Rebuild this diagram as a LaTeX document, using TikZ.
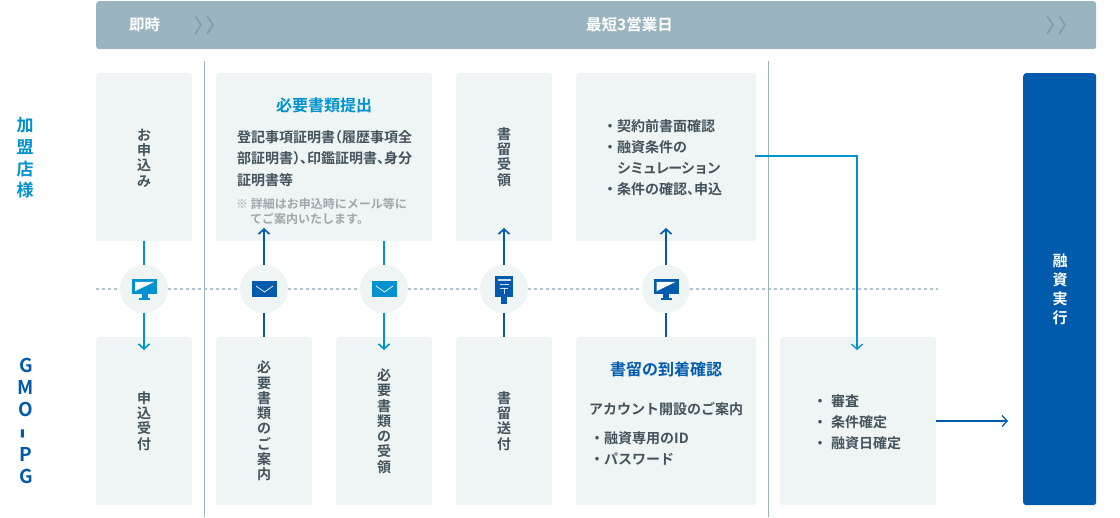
\documentclass[tikz,border=0pt]{standalone}
\usepackage{fontspec}
\usepackage{graphicx}
\setmainfont{Noto Sans CJK JP}[BoldFont={Noto Sans CJK JP Bold}]
\usetikzlibrary{arrows.meta,calc}
\definecolor{panel}{HTML}{EFF4F5}
\definecolor{band}{HTML}{9BB5C0}
\definecolor{bandmark}{HTML}{7F9FAD}
\definecolor{deep}{HTML}{005BAC}
\definecolor{sky}{HTML}{0092D0}
\definecolor{ink}{HTML}{45545C}
\definecolor{note}{HTML}{A0A8AC}
\newcommand{\hk}{\kern-7pt\relax}
\newcommand{\sk}{\kern-1.2pt\relax}
\tikzset{x=1pt,y=-1pt,
 panelbox/.style={fill=panel,rounded corners=3pt},
 flabel/.style={font=\bfseries\fontsize{14}{15.3}\selectfont,text=ink,align=center,inner sep=0},
 listlabel/.style={flabel,align=left,anchor=north west,font=\bfseries\fontsize{14}{21}\selectfont},
 headlabel/.style={font=\bfseries\fontsize{15.5}{17}\selectfont,text=white,inner sep=0},
 titlelabel/.style={flabel,font=\bfseries\fontsize{16}{18}\selectfont},
 hub/.style={circle,fill=panel,minimum size=48pt,inner sep=0},
 tip/.style={-{Straight Barb[length=5pt,width=11pt]}},
 dlink/.style={draw=deep,line width=1.6pt},
 slink/.style={draw=sky,line width=1.6pt},
 divider/.style={draw=band,line width=1pt}}
\newcommand{\screen}[3]{%
 \begin{scope}[shift={(#1,#2)}]
 \fill[#3] (-12.5,-10) rectangle (12.5,5);
 \fill[white] (-9.5,-7) -- (9.5,-7) -- (-9.5,2.2) -- cycle;
 \fill[#3] (-3,5) rectangle (3,9);
 \fill[#3] (-5.5,9) rectangle (5.5,11);
 \end{scope}}
\begin{document}
\begin{tikzpicture}
\useasboundingbox (0,0) rectangle (1120,518);
\node[panelbox,minimum width=1000pt,minimum height=48pt,fill=band,anchor=north west,inner sep=0] (head) at (96,1) {};
\node[headlabel] (now) at (144.5,25) {即時};
\node[headlabel] (fast) at (629.5,25) {最短3営業日};
\foreach \x in {195,207,1047,1059}
  \draw[draw=bandmark,line width=1.8pt] (\x,16) -- (\x+6,25) -- (\x,34);
\coordinate (d1t) at (204,61); \coordinate (d1b) at (204,517);
\coordinate (d2t) at (768,61); \coordinate (d2b) at (768,517);
\coordinate (dl) at (96,289); \coordinate (dr) at (938,289);
\draw[band!80,line width=1.2pt,dash pattern=on 3pt off 3pt] (dl) -- (dr);
\draw[divider] (d1t) -- (d1b);
\draw[divider] (d2t) -- (d2b);
\newcommand{\pbox}[5]{\node[panelbox,anchor=north west,inner sep=0,minimum width=#4 pt,minimum height=#5 pt] (#1) at (#2,#3) {};}
\pbox{a1}{96}{73}{96}{168}
\pbox{a2}{216}{73}{216}{168}
\pbox{a3}{456}{73}{96}{168}
\pbox{a4}{576}{73}{180}{168}
\pbox{b1}{96}{337}{96}{168}
\pbox{b2}{216}{337}{96}{168}
\pbox{b3}{336}{337}{96}{168}
\pbox{b4}{456}{337}{96}{168}
\pbox{b5}{576}{337}{180}{168}
\pbox{b6}{780}{337}{156}{168}
\node[fill=deep,rounded corners=3pt,anchor=north west,inner sep=0,minimum width=73pt,minimum height=432pt] (exec) at (1023,73) {};
\node[hub] (h1) at (144,289) {};
\node[hub] (h2) at (264,289) {};
\node[hub] (h3) at (384,289) {};
\node[hub] (h4) at (504,289) {};
\node[hub] (h5) at (666,289) {};
\screen{144.5}{289}{sky}
\screen{666}{289}{deep}
\foreach \x/\c in {264.5/deep,384.5/sky}{
 \fill[\c] (\x-12.5,281) rectangle (\x+12.5,297);
 \draw[white,line width=.7pt] (\x-8.5,286) -- (\x,292) -- (\x+8.5,286);
}
\fill[deep] (495,276) rectangle (513,297);
\fill[deep] (501,297) rectangle (507,304);
\fill[white,opacity=.8] (498,279.5) rectangle (511,281.5);
\fill[white,opacity=.8] (499.5,284.5) rectangle (508.5,285.5);
\fill[white,opacity=.8] (500,288) rectangle (508,289);
\fill[white,opacity=.8] (503.5,289) rectangle (504.5,294);
\node[flabel] (t1) at (144,158) {お\\申\\込\\み};
\node[titlelabel,text=sky] (t2) at (324,105) {必要書類提出};
\node[flabel,align=left,anchor=north west,font=\bfseries\fontsize{14}{21.5}\selectfont] (t3) at (237,130) {登記事項証明書\hk（履歴事項全\\部証明書）\hk、\hk 印鑑証明書、\hk 身分\\証明書等};
\node[flabel,align=left,anchor=north west,text=note,font=\bfseries\fontsize{12}{15}\selectfont] (t4) at (236,198) {※ 詳細はお申込時にメール等に\\\hspace*{14pt}てご案内いたします。};
\node[flabel] (t5) at (504,157) {書\\留\\受\\領};
\node[listlabel] (t6) at (603,119.5) {・契約前書面確認\\・融資条件の\\　シ\sk ミ\sk ュ\sk レ\sk ー\sk シ\sk ョ\sk ン\\・条件の確認、\hk 申込};
\node[flabel] (t7) at (144,421) {申\\込\\受\\付};
\node[flabel] (t8) at (264,421) {必\\要\\書\\類\\の\\ご\\案\\内};
\node[flabel] (t9) at (384,421) {必\\要\\書\\類\\の\\受\\領};
\node[flabel] (t10) at (504,421) {書\\留\\送\\付};
\node[titlelabel,text=deep] (t11) at (666,369) {書留の到着確認};
\node[flabel] (t12) at (666,409) {アカウント開設のご案内};
\node[listlabel] (t13) at (590,431) {・融資専用のID\\・パスワード};
\node[listlabel] (t14) at (813,394) {・\kern4pt審査\\・\kern4pt条件確定\\・\kern4pt融資日確定};
\node[flabel,text=white,font=\bfseries\fontsize{15}{19}\selectfont] (t15) at (1060,289) {融\\資\\実\\行};
\node[flabel,text=sky,font=\bfseries\fontsize{17}{21.7}\selectfont] (side1) at (25,158) {加\\盟\\店\\様};
\node[flabel,text=deep,font=\bfseries\fontsize{19}{22.3}\selectfont] (side2) at (26,421) {G\\M\\O\\\rotatebox{90}{\fontsize{30}{30}\selectfont -}\\P\\G};
\coordinate (a2up) at (264,228);
\coordinate (a2dn) at (384,241);
\coordinate (a3up) at (504,228);
\coordinate (a4up) at (666,228);
\coordinate (b1dn) at (144,350);
\coordinate (b3dn) at (384,350);
\draw[slink] (a1.south-|h1) -- (h1.north);
\draw[slink,tip] (h1.south) -- (b1dn);
\draw[dlink,tip] (h2.north) -- (a2up);
\draw[dlink] (b2.north-|h2) -- (h2.south);
\draw[slink] (a2dn) -- (h3.north);
\draw[slink,tip] (h3.south) -- (b3dn);
\draw[dlink,tip] (h4.north) -- (a3up);
\draw[dlink] (b4.north-|h4) -- (h4.south);
\draw[dlink,tip] (h5.north) -- (a4up);
\draw[dlink] (b5.north-|h5) -- (h5.south);
\coordinate (elbow) at (857,156);
\coordinate (b6in) at (857,350);
\coordinate (a4out) at (755,156);
\coordinate (b6out) at (936,421);
\coordinate (exin) at (1008,421);
\draw[draw=sky,line width=1.3pt,tip] (a4out) -- (elbow) -- (b6in);
\draw[draw=deep,line width=1.3pt,tip] (b6out) -- (exin);
\end{tikzpicture}
\end{document}
